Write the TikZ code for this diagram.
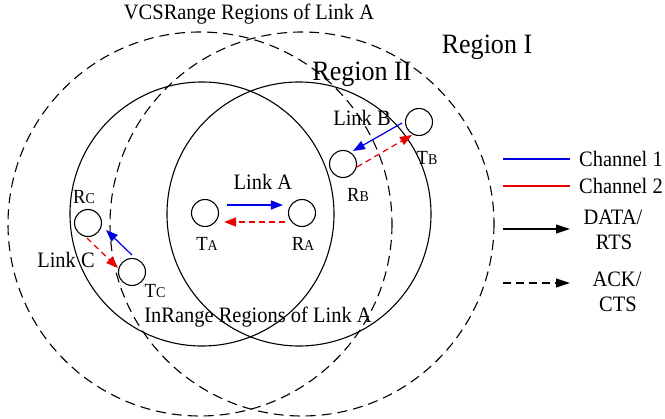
\documentclass[tikz,border=0pt]{standalone}
\usepackage{fontspec}
\setmainfont[FakeStretch=0.93]{Liberation Serif}
\usetikzlibrary{arrows.meta,calc}

\tikzset{
  txt/.style={inner sep=0pt, anchor=base, font=\fontsize{22}{26}\selectfont},
  bigtxt/.style={inner sep=0pt, anchor=base, font=\fontsize{28}{32}\selectfont},
  station/.style={circle, draw, line width=1.1pt, minimum size=27pt, inner sep=0pt},
  inrange/.style={line width=1.1pt},
  vcsrange/.style={line width=1.1pt, dash pattern=on 10pt off 6pt},
  ch1/.style={draw={rgb,255:red,0;green,0;blue,230}, line width=1.2pt,
    -{Triangle[length=12pt,width=9pt]}, fill={rgb,255:red,0;green,0;blue,230}},
  ch2/.style={draw={rgb,255:red,235;green,0;blue,0}, line width=1.2pt,
    dash pattern=on 6pt off 4pt,
    -{Triangle[length=12pt,width=9pt,fill={rgb,255:red,235;green,0;blue,0}]}},
  keyline/.style={line width=1.1pt},
  keytip/.style={-{Triangle[length=14pt,width=9pt]}},
}
\newcommand{\stlabel}[2]{{\fontsize{20}{24}\selectfont #1}{\fontsize{15}{18}\selectfont #2}}

\begin{document}
\begin{tikzpicture}[x=1pt, y=-1pt]
  \useasboundingbox (0,0) rectangle (665,419);

  % interference (VCS) ranges of link A: dashed
  \draw[vcsrange] (200,224) circle[radius=192];
  \draw[vcsrange] (302,224) circle[radius=192];
  % transmission (in) ranges of link A: solid
  \draw[inrange] (202,214) circle[radius=132];
  \draw[inrange] (299,214) circle[radius=132];

  % stations
  \node[station] (TA) at (205,213) {};
  \node[station] (RA) at (302,213) {};
  \node[station] (RB) at (343,164) {};
  \node[station] (TB) at (419,122) {};
  \node[station] (RC) at (88,223) {};
  \node[station] (TC) at (132,272) {};

  % station names
  \node[inner sep=0pt, anchor=base] (lTA) at (207,251) {\stlabel{T}{A}};
  \node[inner sep=0pt, anchor=base] (lRA) at (303,251) {\stlabel{R}{A}};
  \node[inner sep=0pt, anchor=base] (lRB) at (358,202) {\stlabel{R}{B}};
  \node[inner sep=0pt, anchor=base] (lTB) at (427,165) {\stlabel{T}{B}};
  \node[inner sep=0pt, anchor=base] (lRC) at (84,204) {\stlabel{R}{C}};
  \node[inner sep=0pt, anchor=base] (lTC) at (155,298) {\stlabel{T}{C}};

  % link A
  \draw[ch1] ([shift={(8,-8)}]TA.east) -- ([shift={(-5,-8)}]RA.west);
  \draw[ch2] ([shift={(-3,9)}]RA.west) -- ([shift={(5,9)}]TA.east);
  % link B
  \draw[ch1] ($(TB)+(-17,1)$) -- ($(RB)+(10,-13)$);
  \draw[ch2] ($(RB)+(14,3)$) -- ($(TB)+(-7,13)$);
  % link C
  \draw[ch1] ($(TC)+(0,-17)$) -- ($(RC)+(18,7)$);
  \draw[ch2] ($(RC)+(-1,15)$) -- ($(TC)+(-14,-4)$);

  % labels
  \node[txt] (linkA) at (263,190) {Link A};
  \node[txt] (linkB) at (362,126) {Link B};
  \node[txt] (linkC) at (66,268) {Link C};
  \node[bigtxt] (reg1) at (487,54) {Region I};
  \node[bigtxt] (reg2) at (362,81) {Region II};
  \node[txt] (vcs) at (249,20) {VCSRange Regions of Link A};
  \node[txt] (inr) at (258,323) {InRange Regions of Link A};

  % legend
  \coordinate (k1a) at (503,159); \coordinate (k1b) at (570,159);
  \coordinate (k2a) at (503,186); \coordinate (k2b) at (570,186);
  \coordinate (k3a) at (503,229); \coordinate (k3b) at (570,229);
  \coordinate (k4a) at (503,283); \coordinate (k4b) at (570,283);
  \draw[keyline, draw={rgb,255:red,0;green,0;blue,230}] (k1a) -- (k1b);
  \draw[keyline, draw={rgb,255:red,235;green,0;blue,0}] (k2a) -- (k2b);
  \draw[keyline, keytip] (k3a) -- (k3b);
  \draw[keyline, keytip, dash pattern=on 8pt off 5pt] (k4a) -- (k4b);
  \node[txt, anchor=base west] (key1) at (579,167) {Channel 1};
  \node[txt, anchor=base west] (key2) at (579,194) {Channel 2};
  \node[txt] (key3a) at (613,225) {DATA/};
  \node[txt] (key3b) at (614,250) {RTS};
  \node[txt] (key4a) at (617,287) {ACK/};
  \node[txt] (key4b) at (618,312) {CTS};
\end{tikzpicture}
\end{document}
